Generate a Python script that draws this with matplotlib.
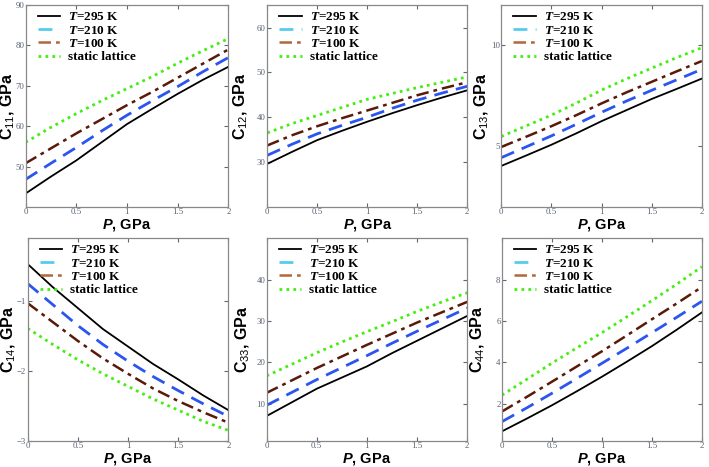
import matplotlib
matplotlib.use('Agg')
import matplotlib.pyplot as plt
from matplotlib.lines import Line2D

plt.rcParams['mathtext.fontset'] = 'custom'
plt.rcParams['mathtext.rm'] = 'Liberation Sans'
plt.rcParams['mathtext.it'] = 'Liberation Sans:italic:bold'
plt.rcParams['mathtext.sf'] = 'Liberation Serif:italic:bold'

pressure = [0, 0.25, 0.5, 0.75, 1.0, 1.25, 1.5, 1.75, 2.0]
labels = ['$\\mathsf{T}$=295 K', '$\\mathsf{T}$=210 K', '$\\mathsf{T}$=100 K', 'static lattice']

c11_295 = [43.3, 47.5, 51.5, 56.0, 60.5, 64.3, 68.0, 71.5, 74.7]
c11_210 = [46.8, 50.8, 54.7, 58.8, 62.7, 66.3, 69.8, 73.5, 77.0]
c11_100 = [50.8, 54.5, 58.2, 61.7, 65.2, 68.5, 72.0, 75.5, 79.0]
c11_static = [56.0, 59.7, 63.1, 66.3, 69.3, 72.3, 75.6, 78.7, 81.7]

c12_295 = [29.6, 32.3, 34.9, 37.0, 39.0, 40.9, 42.7, 44.4, 46.0]
c12_210 = [31.5, 34.0, 36.3, 38.2, 40.0, 42.0, 43.8, 45.4, 46.9]
c12_100 = [33.7, 36.0, 38.0, 39.8, 41.5, 43.2, 44.9, 46.4, 47.8]
c12_static = [36.5, 38.6, 40.4, 42.2, 44.0, 45.3, 46.6, 47.8, 49.0]

c13_295 = [4.03, 4.55, 5.08, 5.65, 6.25, 6.80, 7.35, 7.85, 8.36]
c13_210 = [4.44, 4.98, 5.52, 6.10, 6.69, 7.25, 7.78, 8.30, 8.82]
c13_100 = [4.97, 5.48, 6.00, 6.55, 7.13, 7.68, 8.20, 8.72, 9.23]
c13_static = [5.49, 6.02, 6.55, 7.15, 7.79, 8.35, 8.88, 9.40, 9.89]

c14_295 = [-0.47, -0.80, -1.10, -1.40, -1.65, -1.90, -2.12, -2.35, -2.56]
c14_210 = [-0.75, -1.05, -1.35, -1.62, -1.86, -2.08, -2.28, -2.47, -2.65]
c14_100 = [-1.03, -1.30, -1.57, -1.82, -2.04, -2.25, -2.43, -2.59, -2.74]
c14_static = [-1.39, -1.62, -1.84, -2.04, -2.22, -2.40, -2.56, -2.72, -2.85]

c33_295 = [7.0, 10.3, 13.6, 16.3, 19.0, 22.2, 25.2, 28.2, 31.2]
c33_210 = [9.6, 12.7, 15.8, 18.7, 21.6, 24.6, 27.5, 30.3, 33.1]
c33_100 = [12.6, 15.6, 18.6, 21.4, 24.2, 26.9, 29.6, 32.1, 34.6]
c33_static = [16.7, 19.5, 22.3, 24.9, 27.4, 29.8, 32.3, 34.6, 36.8]

c44_295 = [0.66, 1.28, 1.92, 2.60, 3.30, 4.03, 4.78, 5.58, 6.41]
c44_210 = [1.13, 1.80, 2.50, 3.22, 3.95, 4.68, 5.43, 6.18, 6.95]
c44_100 = [1.62, 2.33, 3.06, 3.80, 4.53, 5.30, 6.08, 6.85, 7.64]
c44_static = [2.41, 3.18, 3.96, 4.70, 5.43, 6.20, 6.98, 7.78, 8.62]

panels = [
    ('11', [c11_295, c11_210, c11_100, c11_static], (40, 90), [50, 60, 70, 80, 90]),
    ('12', [c12_295, c12_210, c12_100, c12_static], (20, 65), [30, 40, 50, 60]),
    ('13', [c13_295, c13_210, c13_100, c13_static], (2, 12), [5, 10]),
    ('14', [c14_295, c14_210, c14_100, c14_static], (-3, -0.1), [-3, -2, -1]),
    ('33', [c33_295, c33_210, c33_100, c33_static], (1, 50), [10, 20, 30, 40]),
    ('44', [c44_295, c44_210, c44_100, c44_static], (0.2, 10), [2, 4, 6, 8]),
]

# axes boxes in figure fractions, plus label offsets in axes coords
boxes = [
    (0.036, 0.557, 0.286, 0.432),
    (0.377, 0.557, 0.282, 0.432),
    (0.707, 0.557, 0.283, 0.432),
    (0.039, 0.056, 0.283, 0.434),
    (0.376, 0.056, 0.283, 0.434),
    (0.708, 0.056, 0.282, 0.434),
]
ylabel_x = [-0.044, -0.085, -0.05, -0.05, -0.075, -0.075]
xlabel_y = [-0.05, -0.05, -0.05, -0.048, -0.048, -0.048]

line_colors = ['black', '#2a55f0', '#5a1a0a', '#44ee11']
legend_colors = ['black', '#55ccee', '#b0683c', '#44ee11']
styles = [
    dict(ls='-', lw=1.3),
    dict(ls=(0, (5, 3)), lw=2.0),
    dict(ls=(0, (5, 2, 1.5, 2)), lw=1.8),
    dict(ls=(0, (1, 1.5)), lw=2.0),
]

fig = plt.figure(figsize=(7.09, 4.67), dpi=100)

for (sub, series, ylim, yticks), box, lx, ly in zip(panels, boxes, ylabel_x, xlabel_y):
    ax = fig.add_axes(box)
    for vals, col, st in zip(series, line_colors, styles):
        ax.plot(pressure, vals, color=col, **st)
    ax.set_xlim(0, 2)
    ax.set_ylim(*ylim)
    ax.set_xticks([0, 0.5, 1, 1.5, 2])
    ax.set_xticklabels(['0', '0.5', '1', '1.5', '2'])
    ax.set_yticks(yticks)
    ax.set_yticklabels([str(t).replace('-', '\u2212') for t in yticks])
    ax.tick_params(direction='in', length=3, width=0.8, top=True, right=True,
                   labelsize=6.3, labelcolor='#556070', color='#666666', pad=1)
    for lab in ax.get_xticklabels() + ax.get_yticklabels():
        lab.set_family('Liberation Serif')
    for sp in ax.spines.values():
        sp.set_color('#888888')
        sp.set_linewidth(0.9)
    ax.set_ylabel('C$_{\\mathrm{' + sub + '}}$, GPa', family='Liberation Sans',
                  fontweight='bold', fontsize=11.5)
    ax.yaxis.set_label_coords(lx, 0.5)
    ax.set_xlabel('$P$, GPa', family='Liberation Sans', fontweight='bold',
                  fontsize=10.5)
    ax.xaxis.set_label_coords(0.5, ly)
    handles = [Line2D([], [], color=c, **st) for c, st in zip(legend_colors, styles)]
    ax.legend(handles, labels, loc='upper left', frameon=False,
              prop={'family': 'Liberation Serif', 'weight': 'bold', 'size': 9.5},
              handlelength=1.7, handletextpad=0.6, labelspacing=0.08,
              borderaxespad=0.05, bbox_to_anchor=(0.03, 1.0))

fig.savefig('out.png', dpi=100)
